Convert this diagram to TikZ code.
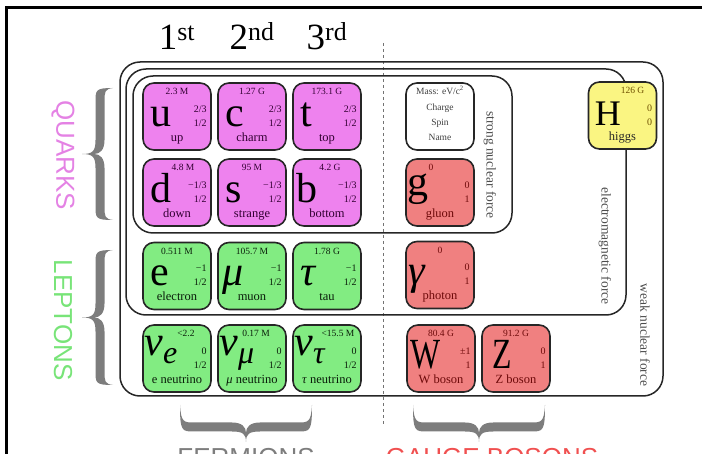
\documentclass[tikz,border=0pt]{standalone}
\usepackage{fontspec}
\setmainfont{Liberation Serif}
\newfontfamily\sansf{Liberation Sans}
\usetikzlibrary{calc}
\definecolor{quarkfill}{RGB}{238,130,238}
\definecolor{leptonfill}{RGB}{130,236,130}
\definecolor{bosonfill}{RGB}{240,128,128}
\definecolor{higgsfill}{RGB}{250,245,130}
\definecolor{quarklabel}{RGB}{228,130,228}
\definecolor{leptonlabel}{RGB}{120,228,120}
\definecolor{bracegray}{RGB}{125,125,125}
\definecolor{gaugered}{RGB}{240,80,80}
\definecolor{qtext}{RGB}{50,0,50}
\definecolor{ltext}{RGB}{10,30,10}
\definecolor{btext}{RGB}{110,10,10}
\definecolor{htext}{RGB}{110,80,0}
\def\scol{black}
\newcommand\pcell[9]{%
  \node[cellbox,#4] (#1) at (#2,#3) {};
  \node[massst] (#1-m) at ($(#1.north)+(0,12.5)$) {#6};
  \node[symst] (#1-s) at ($(#1.north west)+(8,44)$) {#5};
  \node[numst] (#1-q) at ($(#1.north east)+(-5,30)$) {#7};
  \node[numst] (#1-j) at ($(#1.north east)+(-5,44)$) {#8};
  \node[namest] (#1-n) at ($(#1.north)+(0,59)$) {#9};
}
\newcommand\nusym[1]{\kern-6pt\raisebox{13pt}{\itshape ν}\raisebox{5pt}{\fontsize{32}{32}\selectfont\itshape #1}}
\newcommand\sq[1]{\scalebox{0.74}[1]{\fontsize{43}{43}\selectfont #1}}
% brace: width #1, depth #2, arm line #3
\newcommand\gbrace[3]{%
  \fill[bracegray]
  (0,0) .. controls (0,{#3+4.5}) and (2,{#3+4.5}) .. (14,{#3+4.5})
  -- ({#1/2-14},{#3+4.5})
  .. controls ({#1/2-3},{#3+4.5}) and ({#1/2},{#3+7}) .. ({#1/2},{#2})
  .. controls ({#1/2},{#3+7}) and ({#1/2+3},{#3+4.5}) .. ({#1/2+14},{#3+4.5})
  -- ({#1-14},{#3+4.5})
  .. controls ({#1-2},{#3+4.5}) and (#1,{#3+4.5}) .. (#1,0)
  .. controls ({#1-1},{#3-4.5}) and ({#1-4},{#3-4.5}) .. ({#1-14},{#3-4.5})
  -- ({#1/2+14},{#3-4.5})
  .. controls ({#1/2+4},{#3-4.5}) and ({#1/2},{#3}) .. ({#1/2},{#3+6})
  .. controls ({#1/2},{#3}) and ({#1/2-4},{#3-4.5}) .. ({#1/2-14},{#3-4.5})
  -- (14,{#3-4.5})
  .. controls (4,{#3-4.5}) and (1,{#3-4.5}) .. (0,0) -- cycle;
}
\begin{document}
\begin{tikzpicture}[x=1pt,y=-1pt,
  cellbox/.style={draw=black!85, line width=1.6pt, rounded corners=11pt,
    minimum width=68pt, minimum height=67pt, inner sep=0pt},
  quark/.style={fill=quarkfill},
  lepton/.style={fill=leptonfill},
  boson/.style={fill=bosonfill},
  higgs/.style={fill=higgsfill},
  massst/.style={font=\fontsize{9.5}{10}\selectfont, inner sep=0pt, anchor=base, text=\scol},
  symst/.style={font=\fontsize{42}{42}\selectfont, inner sep=0pt, anchor=base west, text=black},
  numst/.style={font=\fontsize{10}{10}\selectfont, inner sep=0pt, anchor=base east, text=\scol},
  namest/.style={font=\fontsize{12.5}{13}\selectfont, inner sep=0pt, anchor=base, text=\scol},
  legt/.style={font=\fontsize{9.5}{10}\selectfont, inner sep=0pt, anchor=base, text=black!75},
  forcebox/.style={draw=black!85, line width=1.5pt, rounded corners=20pt, inner sep=0pt},
  forcet/.style={font=\fontsize{13.5}{14}\selectfont, rotate=-90, inner sep=0pt, text=black!70},
  gent/.style={font=\fontsize{37}{37}\selectfont, inner sep=0pt, anchor=base},
  catt/.style={font=\sansf\fontsize{26}{26}\selectfont, inner sep=0pt}
]
\useasboundingbox (0,0) rectangle (702,454);
% frame
\draw[line width=2.5pt] (6.5,480) -- (6.5,7.5) -- (730,7.5);
% dashed divider
\coordinate (dtop) at (383,43);
\coordinate (dbot) at (383,425);
\draw[black!55, line width=1pt, dash pattern=on 3pt off 3pt] (dtop) -- (dbot);
% force boxes
\node[forcebox, minimum width=543pt, minimum height=334pt] (weak) at (391.5,229) {};
\node[forcebox, minimum width=500pt, minimum height=246pt] (em) at (376,192) {};
\node[forcebox, minimum width=379pt, minimum height=157pt] (strong) at (322.5,154.5) {};
\node[forcet] (strongt) at (490,165) {strong nuclear force};
\node[forcet] (emt) at (605,246) {electromagnetic force};
\node[forcet] (weakt) at (645,335) {weak nuclear force};
% generations
\node[gent] (g1) at (177,50) {1\textsuperscript{st}};
\node[gent] (g2) at (252,50) {2\textsuperscript{nd}};
\node[gent] (g3) at (327,50) {3\textsuperscript{rd}};
% quarks
\def\scol{qtext}
\pcell{u}{177}{116.5}{quark}{u}{2.3 M}{2/3}{1/2}{up}
\pcell{c}{252}{116.5}{quark}{c}{1.27 G}{2/3}{1/2}{charm}
\pcell{t}{327}{116.5}{quark}{t}{173.1 G}{2/3}{1/2}{top}
\pcell{d}{177}{192.5}{quark}{d}{\hspace*{12pt}4.8 M}{−1/3}{1/2}{down}
\pcell{s}{252}{192.5}{quark}{s}{95 M}{−1/3}{1/2}{strange}
\pcell{b}{327}{192.5}{quark}{\kern-4pt b}{\hspace*{6pt}4.2 G}{−1/3}{1/2}{bottom}
% leptons
\def\scol{ltext}
\pcell{e}{177}{276}{lepton}{e}{0.511 M}{−1}{1/2}{electron}
\pcell{mu}{252}{276}{lepton}{\kern-3pt\textit{μ}}{105.7 M}{−1}{1/2}{muon}
\pcell{tau}{327}{276}{lepton}{\textit{τ}}{1.78 G}{−1}{1/2}{tau}
\pcell{ne}{177}{358.5}{lepton}{\nusym{e}}{\hspace*{18pt}<2.2}{0}{1/2}{e neutrino}
\pcell{nm}{252}{358.5}{lepton}{\nusym{μ}}{\hspace*{8pt}0.17 M}{0}{1/2}{\textit{μ} neutrino}
\pcell{nt}{327}{358.5}{lepton}{\nusym{τ}}{\hspace*{22pt}<15.5 M}{0}{1/2}{\textit{τ} neutrino}
% legend
\node[cellbox, fill=white] (legend) at (440,116.5) {};
\node[legt] (leg-m) at ($(legend.north)+(0,12.5)$) {Mass: eV/c\textsuperscript{2}};
\node[legt] (leg-q) at ($(legend.north)+(0,28.5)$) {Charge};
\node[legt] (leg-s) at ($(legend.north)+(0,43.5)$) {Spin};
\node[legt] (leg-n) at ($(legend.north)+(0,58.5)$) {Name};
% bosons
\def\scol{btext}
\pcell{g}{440}{192.5}{boson}{\kern-6pt\raisebox{7pt}{g}}{\hspace*{-18pt}0}{0}{1}{gluon}
\pcell{ga}{440}{275}{boson}{\kern-5pt\textit{γ}}{0}{0}{1}{photon}
\pcell{W}{441}{358.5}{boson}{\kern-4pt\sq{W}}{80.4 G}{±1}{1}{W boson}
\pcell{Z}{516}{358.5}{boson}{\kern3pt\sq{Z}}{91.2 G}{0}{1}{Z boson}
\def\scol{htext}
\pcell{H}{622.5}{115.5}{higgs}{\kern-1pt\fontsize{36}{36}\selectfont H}{\hspace*{20pt}126 G}{0}{0}{\color{black!85}higgs}
% category labels
\node[catt, rotate=-90, text=quarklabel] (quarks) at (63,155) {QUARKS};
\node[catt, rotate=-90, text=leptonlabel] (leptons) at (63,320) {LEPTONS};
\begin{scope}[shift={(113,88)}, x={(0pt,-1pt)}, y={(-1pt,0pt)}]
  \gbrace{132}{31}{13}
\end{scope}
\begin{scope}[shift={(113,250)}, x={(0pt,-1pt)}, y={(-1pt,0pt)}]
  \gbrace{135}{31}{13}
\end{scope}
\begin{scope}[shift={(180,405)}]
  \gbrace{132}{37}{22}
\end{scope}
\begin{scope}[shift={(413,405)}]
  \gbrace{132}{37}{22}
\end{scope}
\node[catt, text=bracegray, anchor=north] (ferm) at (246,448) {FERMIONS};
\node[catt, text=gaugered, anchor=north] (gauge) at (492,448) {GAUGE BOSONS};
\end{tikzpicture}
\end{document}
